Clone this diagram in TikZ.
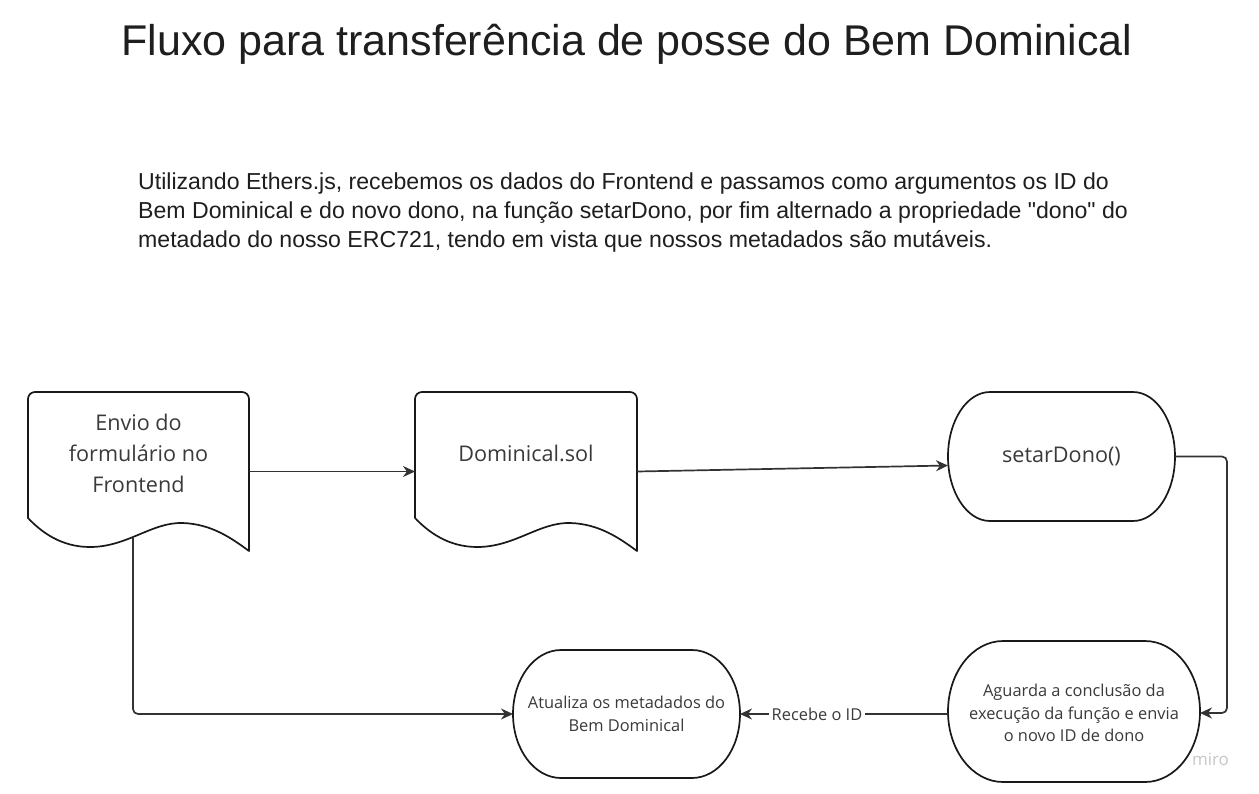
\documentclass[tikz,border=0pt]{standalone}
\usepackage{fontspec}
\setmainfont{Liberation Sans}
\newfontfamily\descfont{Liberation Sans}[Ligatures=ResetAll]
\newfontfamily\shapefont{Open Sans}
\usetikzlibrary{calc,arrows.meta}
\definecolor{ink}{HTML}{1E1E1E}
\definecolor{linec}{HTML}{333333}
\definecolor{txtc}{HTML}{3A3A3A}
\definecolor{wm}{HTML}{C8C8C8}
\tikzset{
  shapeline/.style={draw=black!90, line width=1.7pt, line join=round},
  boxnode/.style={draw=none, inner sep=0pt, outer sep=0pt},
  doctext/.style={font=\shapefont\fontsize{21.6}{31}\selectfont, text=txtc, align=center, inner sep=0pt},
  smalltext/.style={font=\shapefont\fontsize{16.4}{22.5}\selectfont, text=txtc, align=center, inner sep=0pt},
  conn/.style={draw=linec, line width=1.7pt, -{Stealth[length=12pt,width=11pt]}},
  edgelabel/.style={font=\shapefont\fontsize{16.4}{18}\selectfont, text=txtc, fill=white, inner sep=3pt}
}
\newcommand\mydocshape[1]{%
  \draw[shapeline] let \p1=(#1.north west), \p2=(#1.south east), \n1={\x2-\x1} in
    (\x1,\y2+33pt) -- (\x1,\y1-7pt) arc[start angle=180,end angle=90,radius=7pt]
    -- (\x2-7pt,\y1) arc[start angle=90,end angle=0,radius=7pt] -- (\x2,\y2)
    .. controls (\x2-0.08*\n1,\y2+13pt) and (\x1+0.83*\n1,\y2+27pt) .. (\x1+0.70*\n1,\y2+28pt)
    .. controls (\x1+0.56*\n1,\y2+29pt) and (\x1+0.45*\n1,\y2+4pt) .. (\x1+0.28*\n1,\y2+4pt)
    .. controls (\x1+0.15*\n1,\y2+4pt) and (\x1+0.06*\n1,\y2+19pt) .. (\x1,\y2+33pt) -- cycle;}
\newcommand\mystadium[2]{%
  \draw[shapeline] let \p1=(#1.north west), \p2=(#1.south east), \n1={(\y1-\y2)/2} in
    (\x1+#2,\y1) -- (\x2-#2,\y1) arc[start angle=90,end angle=-90,x radius=#2,y radius=\n1]
    -- (\x1+#2,\y2) arc[start angle=270,end angle=90,x radius=#2,y radius=\n1] -- cycle;}
\begin{document}
\begin{tikzpicture}[x=1pt,y=1pt]
\useasboundingbox[fill=white] (0,0) rectangle (1259,-793);
% title and description
\node[font=\fontsize{43}{50}\selectfont, text=ink, inner sep=0pt] (title) at (627,-44) {Fluxo para transferência de posse do Bem Dominical};
\node[font=\descfont\fontsize{23.1}{29}\selectfont, text=ink, align=left, inner sep=0pt, anchor=north west] (desc) at (138,-173)
 {Utilizando Ethers.js, recebemos os dados do Frontend e passamos como argumentos os ID do\\
  Bem Dominical e do novo dono, na função setarDono, por fim alternado a propriedade "dono" do\\
  metadado do nosso ERC721, tendo em vista que nossos metadados são mutáveis.};
% shapes (invisible boxes)
\node[boxnode, minimum width=221pt, minimum height=159pt] (d1) at (138.5,-471.5) {};
\node[boxnode, minimum width=222pt, minimum height=159pt] (d2) at (526,-471.5) {};
\node[boxnode, minimum width=227pt, minimum height=129pt] (s) at (1061.5,-456.5) {};
\node[boxnode, minimum width=252pt, minimum height=141pt] (a) at (1074,-711.5) {};
\node[boxnode, minimum width=227pt, minimum height=128pt] (b) at (626.5,-714) {};
\mydocshape{d1}
\mydocshape{d2}
\mystadium{s}{42pt}
\mystadium{a}{55pt}
\mystadium{b}{48pt}
% texts
\node[doctext] (t1) at ($(d1.center)+(0,18.5)$) {Envio do\\formulário no\\Frontend};
\node[doctext] (t2) at ($(d2.center)+(0,18.5)$) {Dominical.sol};
\node[doctext] (t3) at (s.center) {setarDono()};
\node[smalltext] (t4) at ($(a.center)+(0,-1.5)$) {Aguarda a conclusão da\\execução da função e envia\\o novo ID de dono};
\node[smalltext] (t5) at (b.center) {Atualiza os metadados do\\Bem Dominical};
% connectors
\draw[conn] (d1.east) -- (d2.west);
\draw[conn] (d2.east) -- ($(s.west)+(0,-9)$);
\draw[conn, rounded corners=5pt] (s.east) -- ($(s.east)+(52,0)$) |- ($(a.east)+(0,-1.5)$);
\draw[conn] (a.west |- b.east) -- node[edgelabel, pos=0.63] (lbl) {Recebe o ID} (b.east);
\draw[conn, rounded corners=5pt] ($(d1.south)+(-5.5,13)$) |- (b.west);
% watermark
\node[font=\shapefont\fontsize{17}{19}\selectfont, text=wm, inner sep=0pt] (miro) at (1210.5,-759) {miro};
\end{tikzpicture}
\end{document}
